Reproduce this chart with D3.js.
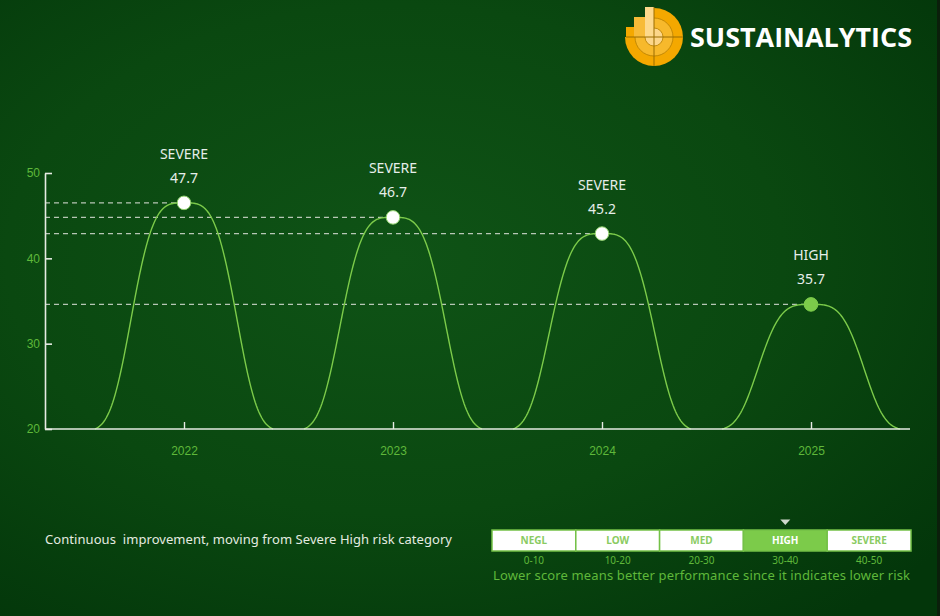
<!DOCTYPE html>
<html>
<head>
<meta charset="utf-8">
<script src="https://cdn.jsdelivr.net/npm/d3@7"></script>
<style>
  html, body { margin: 0; padding: 0; background: #033a0b; }
  svg { display: block; font-family: "Noto Sans", "Open Sans", sans-serif; }
</style>
</head>
<body>
<svg id="chart" width="940" height="616"></svg>
<script>
// ---- data ----
const years = ["2022", "2023", "2024", "2025"];
const scores = [47.7, 46.7, 45.2, 35.7];          // printed scores
const peakLevels = [46.5, 44.8, 42.9, 34.6];      // where the peaks sit on the axis
const riskLabels = ["SEVERE", "SEVERE", "SEVERE", "HIGH"];
const yTicks = [20, 30, 40, 50];
const bands = ["NEGL", "LOW", "MED", "HIGH", "SEVERE"];
const bandRanges = ["0-10", "10-20", "20-30", "30-40", "40-50"];
const currentBand = "HIGH";

const svg = d3.select("#chart");
const W = 940, H = 616;
const green = "#74c147";
const lightGreen = "#7ccb4a";
const textGreen = "#5fb83a";

// background
const defs = svg.append("defs");
const bg = defs.append("radialGradient").attr("id", "bg")
  .attr("cx", "0.42").attr("cy", "0.42").attr("r", "0.75");
bg.append("stop").attr("offset", "0%").attr("stop-color", "#0f5316");
bg.append("stop").attr("offset", "55%").attr("stop-color", "#0a4810");
bg.append("stop").attr("offset", "100%").attr("stop-color", "#03360a");
svg.append("rect").attr("width", W).attr("height", H).attr("fill", "url(#bg)");
svg.append("rect").attr("x", 937).attr("width", 3).attr("height", H).attr("fill", "#0b1f0b");

// scales
const x = d3.scalePoint().domain(years).range([184, 811]);
const y = d3.scaleLinear().domain([20, 50]).range([429, 173]);
const axisLeftX = 45, axisRightX = 910;

// dashed guides
svg.append("g").selectAll("line").data(years).join("line")
  .attr("x1", axisLeftX)
  .attr("x2", (d) => x(d))
  .attr("y1", (d, i) => y(peakLevels[i]))
  .attr("y2", (d, i) => y(peakLevels[i]))
  .attr("stroke", "#d6dcd2").attr("stroke-opacity", 0.85)
  .attr("stroke-width", 1.2).attr("stroke-dasharray", "5,4");

// bell curves (flat-topped shape)
const halfWidth = 89;
const line = d3.line().x(p => p[0]).y(p => p[1]);
function shape(t) {
  const g = (u) => Math.exp(-4.6 * Math.pow(Math.abs(u), 3.6));
  return Math.max(0, (g(t) - g(1)) / (1 - g(1)));
}
function bell(cx, level) {
  const pts = [];
  const top = y(level), base = y(20);
  for (let k = -80; k <= 80; k++) {
    const t = k / 80;
    pts.push([cx + t * halfWidth, base - (base - top) * shape(t)]);
  }
  return line(pts);
}
svg.append("g").selectAll("path").data(years).join("path")
  .attr("d", (d, i) => bell(x(d), peakLevels[i]))
  .attr("fill", "none").attr("stroke", lightGreen).attr("stroke-width", 1.4);

// axes
const yAxis = svg.append("g")
  .attr("transform", `translate(${axisLeftX},0)`)
  .call(d3.axisLeft(y).tickValues(yTicks).tickSize(-7).tickSizeOuter(0).tickPadding(5));
yAxis.select(".domain").attr("stroke", "#e6ebe3").attr("stroke-width", 1.6);
yAxis.selectAll(".tick line").attr("stroke", "#e6ebe3").attr("stroke-width", 1.6);
yAxis.selectAll(".tick text").attr("fill", textGreen).attr("font-size", 12);

const xAxis = svg.append("g")
  .attr("transform", `translate(0,${y(20)})`)
  .call(d3.axisBottom(x).tickSize(-7).tickPadding(17));
xAxis.select(".domain").remove();
xAxis.selectAll(".tick line").attr("stroke", "#e6ebe3").attr("stroke-width", 1.4);
xAxis.selectAll(".tick text").attr("fill", textGreen).attr("font-size", 12);
xAxis.append("line")
  .attr("x1", axisLeftX).attr("x2", axisRightX)
  .attr("stroke", "#e6ebe3").attr("stroke-width", 1.6);

// peak points
svg.append("g").selectAll("circle").data(years).join("circle")
  .attr("cx", (d) => x(d))
  .attr("cy", (d, i) => y(peakLevels[i]))
  .attr("r", 6.8)
  .attr("fill", (d, i) => riskLabels[i] === currentBand ? lightGreen : "#ffffff")
  .attr("stroke", (d, i) => riskLabels[i] === currentBand ? lightGreen : "#8fd16a")
  .attr("stroke-width", 1);

// labels above peaks
const lab = svg.append("g").attr("fill", "#e6eeea").attr("text-anchor", "middle").attr("font-size", 14);
lab.selectAll("text.cat").data(years).join("text").attr("class", "cat")
  .attr("x", (d) => x(d)).attr("y", (d, i) => y(peakLevels[i]) - 44)
  .text((d, i) => riskLabels[i]);
lab.selectAll("text.val").data(years).join("text").attr("class", "val")
  .attr("x", (d) => x(d)).attr("y", (d, i) => y(peakLevels[i]) - 20)
  .text((d, i) => scores[i].toFixed(1));

// caption
svg.append("text").attr("x", 45).attr("y", 544)
  .attr("fill", "#e4ebe0").attr("font-size", 13)
  .attr("xml:space", "preserve")
  .attr("textLength", 407).attr("lengthAdjust", "spacing")
  .text("Continuous  improvement, moving from Severe High risk category");

// risk legend
const lx = d3.scaleBand().domain(bands).range([492, 911]);
const legend = svg.append("g");
legend.selectAll("rect").data(bands).join("rect")
  .attr("x", (d) => lx(d)).attr("y", 530)
  .attr("width", lx.bandwidth()).attr("height", 21)
  .attr("fill", (d) => d === currentBand ? lightGreen : "#ffffff")
  .attr("stroke", green).attr("stroke-width", 1.5);
legend.selectAll("text.band").data(bands).join("text").attr("class", "band")
  .attr("x", (d) => lx(d) + lx.bandwidth() / 2).attr("y", 544)
  .attr("text-anchor", "middle").attr("font-size", 10).attr("font-weight", "bold")
  .attr("fill", (d) => d === currentBand ? "#ffffff" : "#8acb62")
  .text((d) => d);
legend.selectAll("text.range").data(bandRanges).join("text").attr("class", "range")
  .attr("x", (d, i) => lx(bands[i]) + lx.bandwidth() / 2).attr("y", 564)
  .attr("text-anchor", "middle").attr("font-size", 10).attr("fill", textGreen)
  .text((d) => d);
const mx = lx(currentBand) + lx.bandwidth() / 2;
legend.append("path")
  .attr("d", d3.line()([[mx - 5, 519.5], [mx + 5, 519.5], [mx, 525]]) + "Z")
  .attr("fill", "#cfd8cc");
svg.append("text").attr("x", 493).attr("y", 580)
  .attr("font-size", 13).attr("fill", textGreen)
  .attr("textLength", 417).attr("lengthAdjust", "spacing")
  .text("Lower score means better performance since it indicates lower risk");

// logo emblem
const logo = svg.append("g").attr("transform", "translate(654,37)");
defs.append("clipPath").attr("id", "q3")
  .append("path").attr("d", "M-32,0H0V-32H32V32H-32Z");
const rings = logo.append("g").attr("clip-path", "url(#q3)");
rings.append("circle").attr("r", 29).attr("fill", "#f4a800");
rings.append("circle").attr("r", 19).attr("fill", "#f7b92c").attr("stroke", "#b67f00").attr("stroke-width", 0.8);
rings.append("circle").attr("r", 9).attr("fill", "#fcd68a").attr("stroke", "#b67f00").attr("stroke-width", 0.8);
logo.append("rect").attr("x", -28).attr("y", -10).attr("width", 8).attr("height", 10).attr("fill", "#f4a800");
logo.append("rect").attr("x", -20).attr("y", -20).attr("width", 11).attr("height", 20).attr("fill", "#f7bb38");
logo.append("rect").attr("x", -9).attr("y", -30).attr("width", 9).attr("height", 30).attr("fill", "#fdd98c");
logo.append("line").attr("x1", -28).attr("x2", 29).attr("stroke", "#9a6d00").attr("stroke-width", 1);
logo.append("line").attr("y1", -30).attr("y2", 29).attr("stroke", "#9a6d00").attr("stroke-width", 1);
svg.append("text").attr("x", 690).attr("y", 47)
  .attr("fill", "#ffffff").attr("font-size", 26).attr("font-weight", "bold")
  .attr("font-family", "'Open Sans', 'Noto Sans', sans-serif")
  .attr("textLength", 222).attr("lengthAdjust", "spacingAndGlyphs")
  .text("SUSTAINALYTICS");
</script>
</body>
</html>
